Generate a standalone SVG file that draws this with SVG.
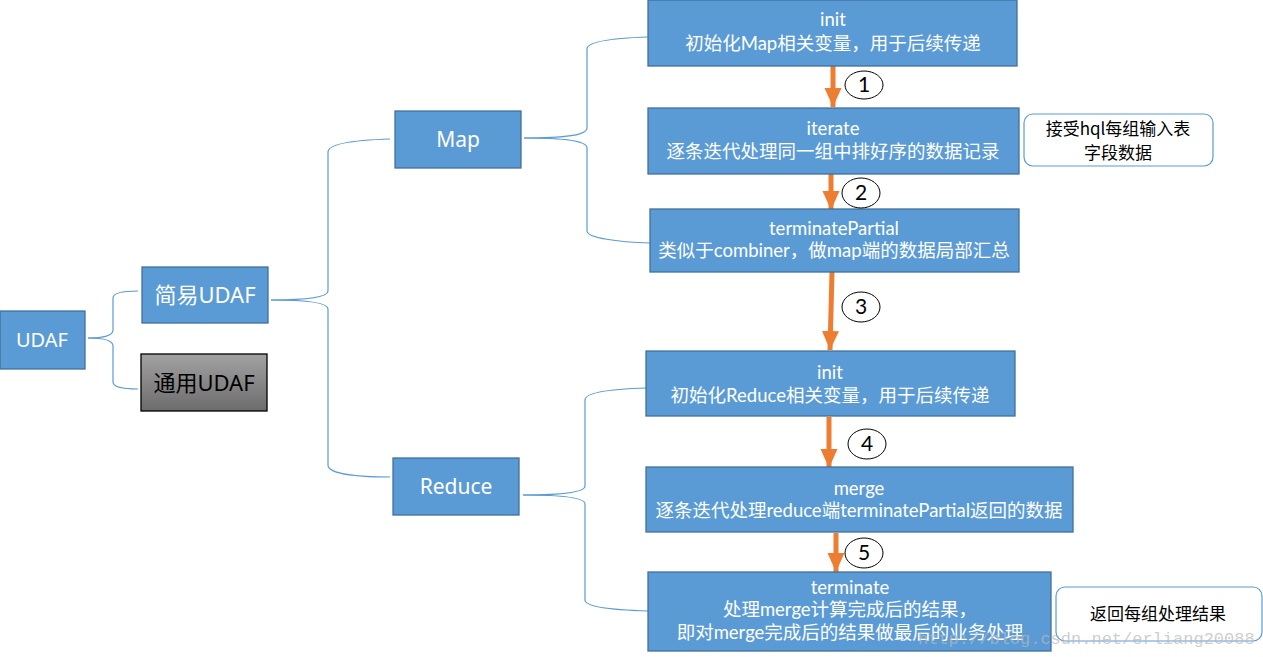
<svg xmlns="http://www.w3.org/2000/svg" width="1263" height="657" viewBox="0 0 1263 657">
<defs>
<linearGradient id="gray" x1="0" y1="0" x2="0" y2="1">
<stop offset="0" stop-color="#a2a2a2"/>
<stop offset="1" stop-color="#6c6c6c"/>
</linearGradient>
<marker id="ah" markerUnits="userSpaceOnUse" markerWidth="20" markerHeight="18" refX="19" refY="8.5" orient="auto">
<path d="M0,0 L19,8.5 L0,17 z" fill="#ED7D31"/>
</marker>
<style>
.box{fill:#5B9BD5;stroke:#41719C;stroke-width:1.3}
.t{font-family:"Lato","Noto Sans CJK SC",sans-serif;font-size:18.5px;fill:#ffffff;text-anchor:middle}
.big{font-family:"Noto Sans","Noto Sans CJK SC",sans-serif;fill:#ffffff;text-anchor:middle}
.conn{fill:none;stroke:#5B9BD5;stroke-width:1.2}
.arr{stroke:#ED7D31;stroke-width:5;fill:none}
.circ{fill:#ffffff;stroke:#000000;stroke-width:1}
.num{font-family:"Lato","Noto Sans",sans-serif;font-size:21px;fill:#000000;text-anchor:middle}
.call{fill:#ffffff;stroke:#5B9BD5;stroke-width:1.2}
.ct{font-family:"Noto Sans CJK SC","Noto Sans",sans-serif;font-size:17px;fill:#000000;text-anchor:middle}
</style>
</defs>
<rect width="1263" height="657" fill="#ffffff"/>

<g id="connectors">
<path class="conn" d="M88,338 C104,338 113,336 113,330 L113,298 C113,293 124,291 138,291"/>
<path class="conn" d="M88,338 C104,338 113,340 113,346 L113,382 C113,387 124,389 138,389"/>
<path class="conn" d="M271,300 C305,300 328,298 328,291 L328,152 C328,143 358,140 390,139"/>
<path class="conn" d="M271,300 C305,300 328,302 328,309 L328,465 C328,474 358,477 390,477"/>
<path class="conn" d="M524,138 C560,138 587,136 587,128 L587,49 C587,41 618,38 648,37"/>
<path class="conn" d="M524,138 C560,138 587,140 587,148 L587,231 C587,238 618,242 650,243"/>
<path class="conn" d="M523,495 C560,495 585,493 585,486 L585,400 C585,392 614,389 646,388"/>
<path class="conn" d="M523,495 C560,495 585,497 585,504 L585,600 C585,607 614,610 648,611"/>
<line class="arr" x1="833" y1="66" x2="833" y2="107" marker-end="url(#ah)"/>
<line class="arr" x1="831" y1="174" x2="831" y2="210" marker-end="url(#ah)"/>
<line class="arr" x1="832" y1="272" x2="830" y2="350" marker-end="url(#ah)"/>
<line class="arr" x1="829" y1="417" x2="829" y2="468" marker-end="url(#ah)"/>
<line class="arr" x1="836" y1="533" x2="836" y2="572" marker-end="url(#ah)"/>
</g>

<g id="udaf">
<rect class="box" x="0" y="311" width="85" height="58"/>
<text class="big" x="42" y="347" font-size="20">UDAF</text>
</g>
<g id="simple-udaf">
<rect class="box" x="142" y="267" width="126" height="56"/>
<text class="big" x="205" y="303" font-size="22">简易UDAF</text>
</g>
<g id="generic-udaf">
<rect x="141" y="354" width="126" height="57" fill="url(#gray)" stroke="#000000" stroke-width="1.3"/>
<text class="big" x="204" y="391" font-size="22" style="fill:#000000">通用UDAF</text>
</g>
<g id="map">
<rect class="box" x="395" y="111" width="126" height="57"/>
<text class="big" x="458" y="147" font-size="21">Map</text>
</g>
<g id="reduce">
<rect class="box" x="393" y="458" width="126" height="57"/>
<text class="big" x="456" y="494" font-size="21">Reduce</text>
</g>

<g id="map-init">
<rect class="box" x="648" y="0" width="369" height="66"/>
<text class="t" x="833" y="26">init</text>
<text class="t" x="833" y="50">初始化Map相关变量，用于后续传递</text>
</g>
<g id="iterate">
<rect class="box" x="648" y="108" width="371" height="66"/>
<text class="t" x="833" y="135">iterate</text>
<text class="t" x="833" y="158">逐条迭代处理同一组中排好序的数据记录</text>
</g>
<g id="terminatePartial">
<rect class="box" x="650" y="209" width="369" height="63"/>
<text class="t" x="834" y="235">terminatePartial</text>
<text class="t" x="834" y="257">类似于combiner，做map端的数据局部汇总</text>
</g>
<g id="reduce-init">
<rect class="box" x="646" y="351" width="369" height="65"/>
<text class="t" x="830" y="379">init</text>
<text class="t" x="830" y="402">初始化Reduce相关变量，用于后续传递</text>
</g>
<g id="merge">
<rect class="box" x="646" y="467" width="427" height="65"/>
<text class="t" x="859" y="495">merge</text>
<text class="t" x="859" y="517">逐条迭代处理reduce端terminatePartial返回的数据</text>
</g>
<g id="terminate">
<rect class="box" x="648" y="572" width="403" height="79"/>
<text class="t" x="850" y="594">terminate</text>
<text class="t" x="850" y="616">处理merge计算完成后的结果，</text>
<text class="t" x="850" y="639">即对merge完成后的结果做最后的业务处理</text>
</g>

<g id="step-labels">
<ellipse class="circ" cx="864" cy="85" rx="19" ry="14"/>
<text class="num" x="864" y="92">1</text>
<ellipse class="circ" cx="861" cy="193" rx="19" ry="15"/>
<text class="num" x="861" y="200">2</text>
<ellipse class="circ" cx="861" cy="307" rx="19" ry="15"/>
<text class="num" x="861" y="314">3</text>
<ellipse class="circ" cx="867" cy="444" rx="19" ry="15"/>
<text class="num" x="867" y="451">4</text>
<ellipse class="circ" cx="864" cy="553" rx="19" ry="15"/>
<text class="num" x="864" y="560">5</text>
</g>

<g id="note-iterate">
<rect class="call" x="1024" y="114" width="189" height="52" rx="9"/>
<text class="ct" x="1118" y="135">接受hql每组输入表</text>
<text class="ct" x="1118" y="159">字段数据</text>
</g>
<g id="note-terminate">
<rect class="call" x="1056" y="587" width="206" height="54" rx="9"/>
<text class="ct" x="1158" y="620" font-size="18">返回每组处理结果</text>
</g>

<text x="918" y="644" font-family="Liberation Mono, monospace" font-size="17" fill="#b8b8b8" fill-opacity="0.7">http://blog.csdn.net/erliang20088</text>
</svg>
